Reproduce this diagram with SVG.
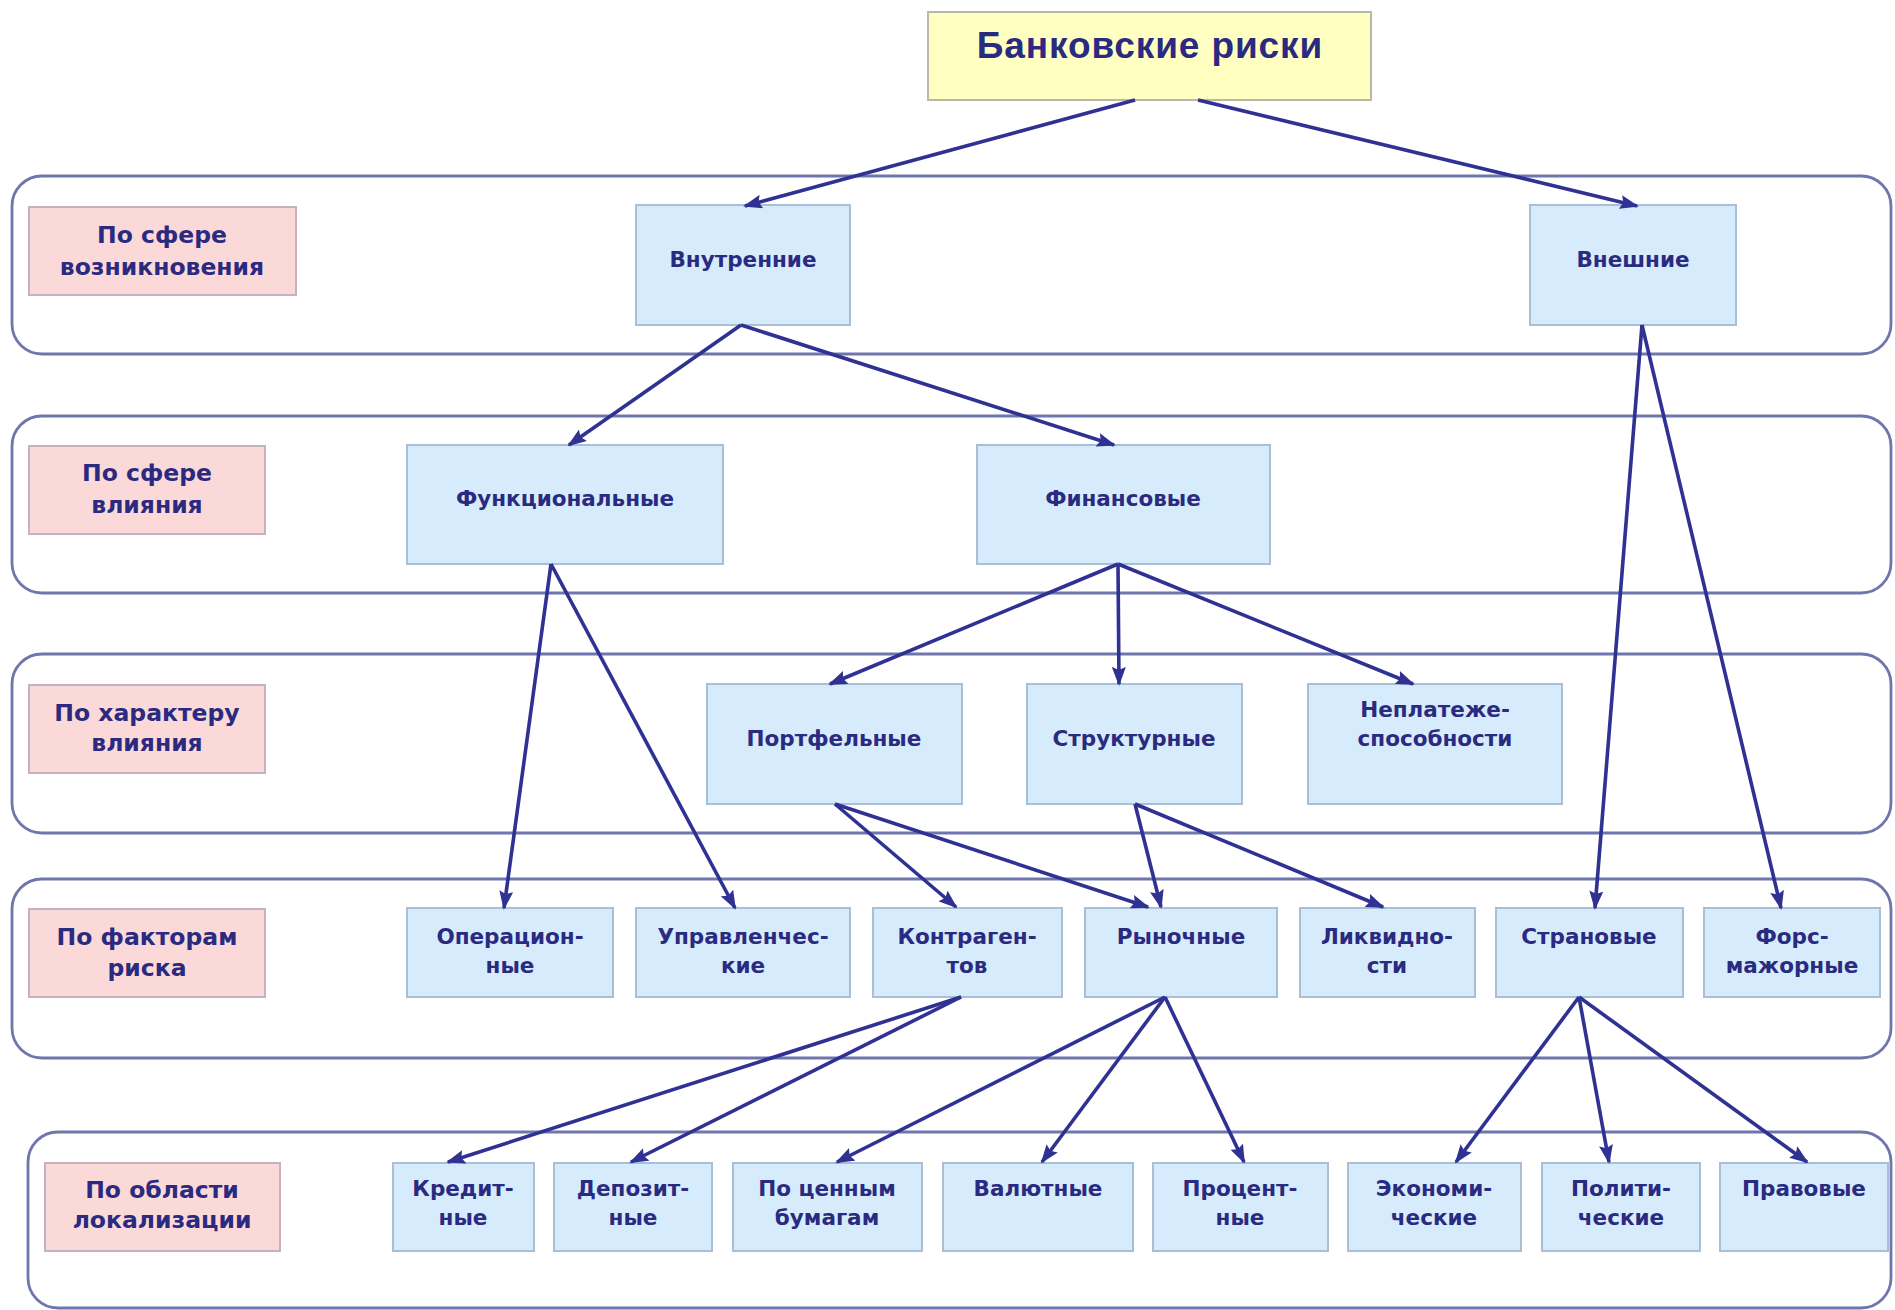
<svg xmlns="http://www.w3.org/2000/svg" width="1895" height="1310" viewBox="0 0 1895 1310">
<style>
.band{fill:#ffffff;stroke:#6f76ad;stroke-width:2.8}
.lab{fill:#fcd9d9;stroke:#c4b2c0;stroke-width:2}
.node{fill:#d6ebfb;stroke:#a8bfd6;stroke-width:2}
.title{fill:#ffffc2;stroke:#b8b8a8;stroke-width:2}
.t{font-family:"DejaVu Sans",Verdana,sans-serif;font-weight:bold;fill:#2a2a80;text-anchor:middle}
.tl{font-size:23.5px}
.tn{font-size:21.5px}
.tt{font-family:"Liberation Sans",Arial,sans-serif;font-weight:bold;font-size:37px;letter-spacing:0.9px;fill:#2a2a80;text-anchor:middle}
.c{stroke:#2f3193;stroke-width:3.6;fill:none;marker-end:url(#ah)}
</style>
<defs>
<marker id="ah" markerUnits="userSpaceOnUse" markerWidth="19" markerHeight="14" refX="17" refY="7" orient="auto">
<path d="M0,0 L19,7 L0,14 L3,7 z" fill="#2f3193"/>
</marker>
</defs>
<rect width="1895" height="1310" fill="#ffffff"/>
<g id="bands">
<rect class="band" x="12" y="176" width="1879" height="178" rx="30"/>
<rect class="band" x="12" y="416" width="1879" height="177" rx="30"/>
<rect class="band" x="12" y="654" width="1879" height="179" rx="30"/>
<rect class="band" x="12" y="879" width="1879" height="179" rx="30"/>
<rect class="band" x="28" y="1132" width="1863" height="176" rx="30"/>
</g>
<g id="title">
<rect class="title" x="928" y="12" width="443" height="88"/>
<text class="tt" x="1150" y="58">Банковские риски</text>
</g>
<g id="label1"><rect class="lab" x="29" y="207" width="267" height="88"/><text class="t tl" x="162" y="243">По сфере</text><text class="t tl" x="162" y="275">возникновения</text></g>
<g id="label2"><rect class="lab" x="29" y="446" width="236" height="88"/><text class="t tl" x="147" y="481">По сфере</text><text class="t tl" x="147" y="513">влияния</text></g>
<g id="label3"><rect class="lab" x="29" y="685" width="236" height="88"/><text class="t tl" x="147" y="721">По характеру</text><text class="t tl" x="147" y="751">влияния</text></g>
<g id="label4"><rect class="lab" x="29" y="909" width="236" height="88"/><text class="t tl" x="147" y="945">По факторам</text><text class="t tl" x="147" y="976">риска</text></g>
<g id="label5"><rect class="lab" x="45" y="1163" width="235" height="88"/><text class="t tl" x="162" y="1198">По области</text><text class="t tl" x="162" y="1228">локализации</text></g>

<g id="n-vnutr"><rect class="node" x="636" y="205" width="214" height="120"/><text class="t tn" x="743" y="267">Внутренние</text></g>
<g id="n-vnesh"><rect class="node" x="1530" y="205" width="206" height="120"/><text class="t tn" x="1633" y="267">Внешние</text></g>
<g id="n-func"><rect class="node" x="407" y="445" width="316" height="119"/><text class="t tn" x="565" y="506">Функциональные</text></g>
<g id="n-fin"><rect class="node" x="977" y="445" width="293" height="119"/><text class="t tn" x="1123" y="506">Финансовые</text></g>
<g id="n-portf"><rect class="node" x="707" y="684" width="255" height="120"/><text class="t tn" x="834" y="746">Портфельные</text></g>
<g id="n-struct"><rect class="node" x="1027" y="684" width="215" height="120"/><text class="t tn" x="1134" y="746">Структурные</text></g>
<g id="n-neplat"><rect class="node" x="1308" y="684" width="254" height="120"/><text class="t tn" x="1435" y="717">Неплатеже-</text><text class="t tn" x="1435" y="746">способности</text></g>

<g id="n-oper"><rect class="node" x="407" y="908" width="206" height="89"/><text class="t tn" x="510" y="944">Операцион-</text><text class="t tn" x="510" y="973">ные</text></g>
<g id="n-uprav"><rect class="node" x="636" y="908" width="214" height="89"/><text class="t tn" x="743" y="944">Управленчес-</text><text class="t tn" x="743" y="973">кие</text></g>
<g id="n-kontr"><rect class="node" x="873" y="908" width="189" height="89"/><text class="t tn" x="967" y="944">Контраген-</text><text class="t tn" x="967" y="973">тов</text></g>
<g id="n-rynoch"><rect class="node" x="1085" y="908" width="192" height="89"/><text class="t tn" x="1181" y="944">Рыночные</text></g>
<g id="n-likv"><rect class="node" x="1300" y="908" width="175" height="89"/><text class="t tn" x="1387" y="944">Ликвидно-</text><text class="t tn" x="1387" y="973">сти</text></g>
<g id="n-stran"><rect class="node" x="1496" y="908" width="187" height="89"/><text class="t tn" x="1589" y="944">Страновые</text></g>
<g id="n-fors"><rect class="node" x="1704" y="908" width="176" height="89"/><text class="t tn" x="1792" y="944">Форс-</text><text class="t tn" x="1792" y="973">мажорные</text></g>

<g id="n-kred"><rect class="node" x="393" y="1163" width="141" height="88"/><text class="t tn" x="463" y="1196">Кредит-</text><text class="t tn" x="463" y="1225">ные</text></g>
<g id="n-depoz"><rect class="node" x="554" y="1163" width="158" height="88"/><text class="t tn" x="633" y="1196">Депозит-</text><text class="t tn" x="633" y="1225">ные</text></g>
<g id="n-cenn"><rect class="node" x="733" y="1163" width="189" height="88"/><text class="t tn" x="827" y="1196">По ценным</text><text class="t tn" x="827" y="1225">бумагам</text></g>
<g id="n-valut"><rect class="node" x="943" y="1163" width="190" height="88"/><text class="t tn" x="1038" y="1196">Валютные</text></g>
<g id="n-proc"><rect class="node" x="1153" y="1163" width="175" height="88"/><text class="t tn" x="1240" y="1196">Процент-</text><text class="t tn" x="1240" y="1225">ные</text></g>
<g id="n-ekon"><rect class="node" x="1348" y="1163" width="173" height="88"/><text class="t tn" x="1434" y="1196">Экономи-</text><text class="t tn" x="1434" y="1225">ческие</text></g>
<g id="n-polit"><rect class="node" x="1542" y="1163" width="158" height="88"/><text class="t tn" x="1621" y="1196">Полити-</text><text class="t tn" x="1621" y="1225">ческие</text></g>
<g id="n-prav"><rect class="node" x="1720" y="1163" width="168" height="88"/><text class="t tn" x="1804" y="1196">Правовые</text></g>

<g id="connectors">
<line class="c" x1="1135" y1="100" x2="745" y2="206"/>
<line class="c" x1="1198" y1="100" x2="1637" y2="206"/>
<line class="c" x1="741" y1="325" x2="569" y2="445"/>
<line class="c" x1="741" y1="325" x2="1114" y2="445"/>
<line class="c" x1="1642" y1="325" x2="1595" y2="908"/>
<line class="c" x1="1642" y1="325" x2="1781" y2="908"/>
<line class="c" x1="551" y1="564" x2="504" y2="908"/>
<line class="c" x1="551" y1="564" x2="735" y2="908"/>
<line class="c" x1="1118" y1="564" x2="830" y2="684"/>
<line class="c" x1="1118" y1="564" x2="1119" y2="684"/>
<line class="c" x1="1118" y1="564" x2="1413" y2="684"/>
<line class="c" x1="835" y1="804" x2="956" y2="907"/>
<line class="c" x1="835" y1="804" x2="1148" y2="907"/>
<line class="c" x1="1135" y1="804" x2="1161" y2="907"/>
<line class="c" x1="1135" y1="804" x2="1383" y2="907"/>
<line class="c" x1="961" y1="997" x2="448" y2="1162"/>
<line class="c" x1="961" y1="997" x2="631" y2="1162"/>
<line class="c" x1="1165" y1="997" x2="837" y2="1162"/>
<line class="c" x1="1165" y1="997" x2="1042" y2="1162"/>
<line class="c" x1="1165" y1="997" x2="1244" y2="1162"/>
<line class="c" x1="1579" y1="997" x2="1456" y2="1162"/>
<line class="c" x1="1579" y1="997" x2="1609" y2="1162"/>
<line class="c" x1="1579" y1="997" x2="1807" y2="1162"/>
</g>
</svg>
